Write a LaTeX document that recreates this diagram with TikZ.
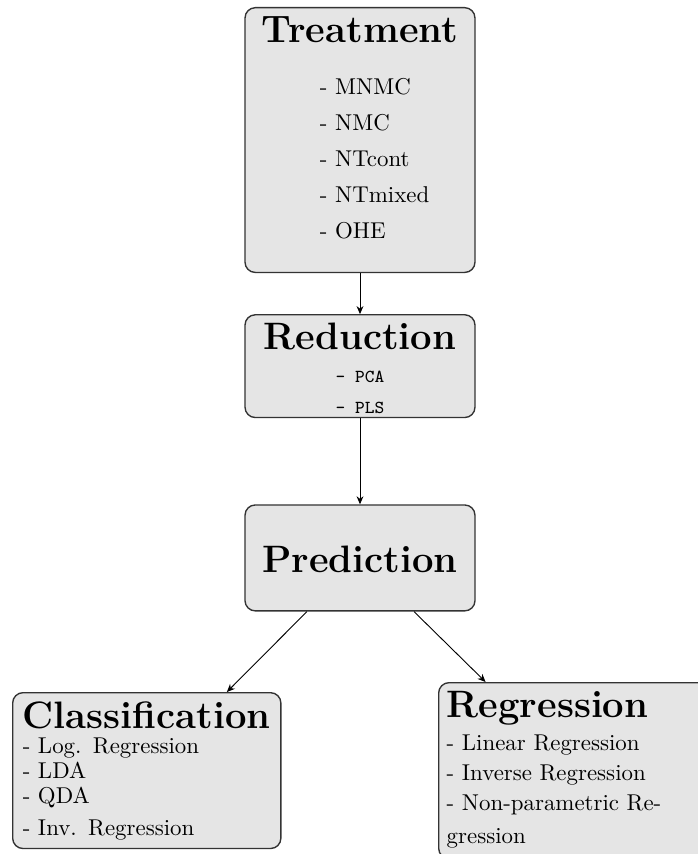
\documentclass[tikz,border=0pt]{standalone}
\usetikzlibrary{positioning,arrows.meta}
\tikzset{
  stage/.style = {draw=black!80, fill=black!10, rounded corners=4.5pt, line width=0.6pt,
                  align=center, minimum width=100.5pt, inner ysep=0pt, font=\normalsize},
  leaf/.style  = {draw=black!80, fill=black!10, rounded corners=4.5pt, line width=0.6pt,
                  align=left, inner ysep=0pt, font=\normalsize},
  arrow/.style = {-{Stealth[length=3.5pt,width=3pt]}, line width=0.4pt},
}
\newcommand{\boxtitle}[1]{{\fontsize{16.7}{19}\selectfont\bfseries #1}}
\newcommand{\topgap}[1]{\rule{0pt}{#1}}
\newcommand{\botgap}[1]{\rule[-#1]{0pt}{#1}}
\newcommand{\entry}[1]{\makebox[35pt][l]{- #1}}

\begin{document}
\begin{tikzpicture}[x=0.437pt, y=-0.437pt]
  \useasboundingbox (0,0) rectangle (698,854);
  \clip (0,0) rectangle (698,854);
  % pipeline
  \node[stage, anchor=north] (treat) at (360,7)
    {\boxtitle{Treatment}\topgap{15.3pt}\\[10.7pt]
     \entry{MNMC}\\[3.7pt] \entry{NMC}\\[3.7pt] \entry{NTcont}\\[3.7pt]
     \entry{NTmixed}\\[3.7pt] \entry{OHE}\botgap{14.9pt}};
  \node[stage, below=17.9pt of treat] (reduc)
    {\boxtitle{Reduction}\topgap{15.3pt}\\[2.4pt]
     {\footnotesize\ttfamily - PCA}\\[1.5pt] {\footnotesize\ttfamily - PLS}\botgap{1.7pt}};
  \node[stage, below=37.6pt of reduc] (pred)
    {\boxtitle{Prediction}\topgap{29.7pt}\botgap{16.6pt}};
  % outputs
  \node[leaf, anchor=north west, inner xsep=4.4pt, text width=108.4pt] (class) at (12,692)
    {\boxtitle{Classification}\topgap{15.7pt}\\[-1.1pt]
     - Log. Regression\\[-1.1pt] - LDA\\[-1.1pt] - QDA\\[2pt]
     - Inv. Regression\botgap{5.7pt}};
  \node[leaf, anchor=north west, inner xsep=3.5pt, text width=111pt] (regr) at (438,682)
    {\boxtitle{Regression}\topgap{15.3pt}\\[2.4pt]
     - Linear Regression\\[1.1pt] - Inverse Regression\\[1.1pt]
     - Non-parametric Re-\\[2.4pt] gression\botgap{6.6pt}};
  \draw[arrow] (treat) -- (reduc);
  \draw[arrow] (reduc) -- (pred);
  \draw[arrow] ([xshift=-23.2pt]pred.south) -- ([xshift=35pt]class.north);
  \draw[arrow] ([xshift=23.6pt]pred.south) -- ([xshift=-38.5pt]regr.north);
\end{tikzpicture}
\end{document}
